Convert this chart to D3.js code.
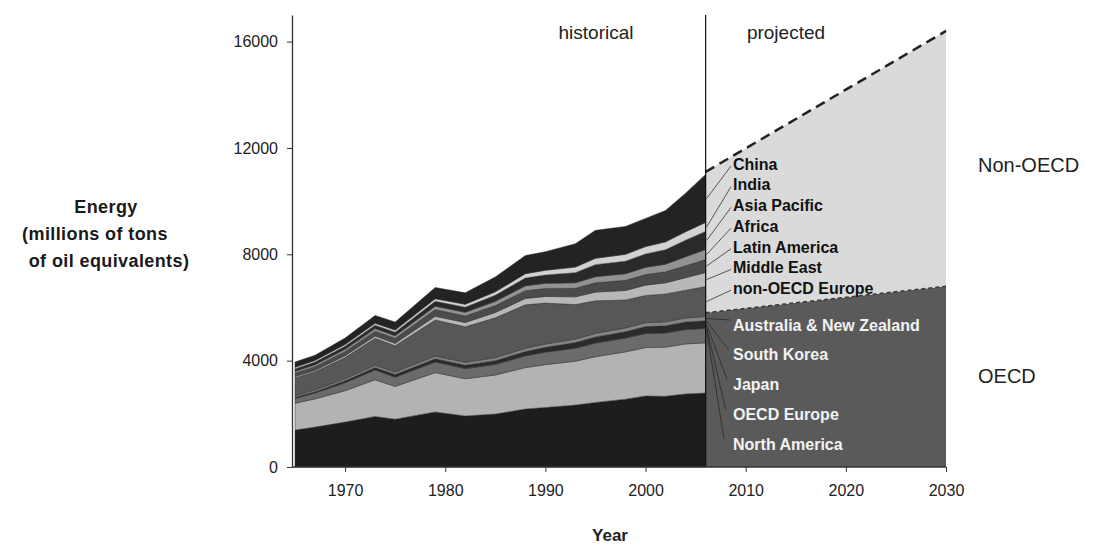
<!DOCTYPE html>
<html>
<head>
<meta charset="utf-8">
<script src="https://cdn.jsdelivr.net/npm/d3@7"></script>
<style>
  body { margin: 0; background: #fff; }
  text { font-family: "Liberation Sans", Arial, sans-serif; }
</style>
</head>
<body>
<svg id="chart" width="1095" height="545"></svg>
<script>
// ---------------- data ----------------
const years = [1965, 1967, 1970, 1973, 1975, 1979, 1982, 1985, 1988, 1990, 1993, 1995, 1998, 2000, 2002, 2004, 2006];
const northAmerica  = [1390, 1500, 1690, 1900, 1800, 2070, 1920, 1990, 2180, 2240, 2330, 2430, 2550, 2670, 2660, 2750, 2780];
const oecdEurope    = [1010, 1060, 1180, 1380, 1230, 1480, 1400, 1470, 1560, 1610, 1650, 1720, 1780, 1820, 1850, 1880, 1890];
const japan         = [180, 220, 300, 370, 350, 400, 380, 400, 440, 470, 490, 510, 520, 530, 530, 540, 540];
const southKorea    = [40, 50, 70, 90, 100, 120, 130, 140, 160, 180, 210, 230, 240, 260, 270, 280, 290];
const ausNz         = [60, 65, 75, 85, 90, 100, 105, 110, 120, 125, 130, 135, 140, 145, 150, 155, 160];
const nonOecdEurope = [670, 685, 800, 1015, 990, 1360, 1340, 1500, 1640, 1540, 1300, 1225, 1050, 1025, 1050, 1045, 1125];
const middleEast    = [50, 55, 70, 85, 90, 140, 160, 200, 240, 250, 290, 330, 360, 390, 420, 470, 530];
const latinAmerica  = [130, 140, 160, 185, 190, 250, 245, 260, 290, 300, 320, 350, 380, 400, 410, 450, 490];
const africa        = [70, 75, 85, 95, 100, 130, 140, 160, 185, 195, 210, 230, 250, 270, 290, 340, 375];
const asiaPacific   = [90, 95, 110, 130, 130, 180, 190, 230, 290, 310, 380, 450, 470, 500, 540, 620, 680];
const india         = [60, 65, 70, 75, 80, 100, 110, 130, 165, 180, 210, 240, 260, 280, 300, 320, 340];
const china         = [200, 190, 240, 290, 300, 420, 430, 560, 680, 700, 880, 1050, 1050, 1060, 1180, 1450, 1800];

const projYears   = [2006, 2030];
const projOecd    = [5800, 6800];
const projNonOecd = [5300, 9600];

const xTicks = [1970, 1980, 1990, 2000, 2010, 2020, 2030];
const yTicks = [0, 4000, 8000, 12000, 16000];

// layer order bottom -> top
const layers = [
  { key: 'na',  name: 'North America',          values: northAmerica,  fill: '#1d1d1d', group: 'oecd' },
  { key: 'eu',  name: 'OECD Europe',            values: oecdEurope,    fill: '#b3b3b3', group: 'oecd' },
  { key: 'jp',  name: 'Japan',                  values: japan,         fill: '#6b6b6b', group: 'oecd' },
  { key: 'kr',  name: 'South Korea',            values: southKorea,    fill: '#2b2b2b', group: 'oecd' },
  { key: 'au',  name: 'Australia & New Zealand',values: ausNz,         fill: '#858585', group: 'oecd' },
  { key: 'neu', name: 'non-OECD Europe',        values: nonOecdEurope, fill: '#575757', group: 'non' },
  { key: 'me',  name: 'Middle East',            values: middleEast,    fill: '#b8b8b8', group: 'non' },
  { key: 'la',  name: 'Latin America',          values: latinAmerica,  fill: '#4b4b4b', group: 'non' },
  { key: 'af',  name: 'Africa',                 values: africa,        fill: '#929292', group: 'non' },
  { key: 'ap',  name: 'Asia Pacific',           values: asiaPacific,   fill: '#2a2a2a', group: 'non' },
  { key: 'in',  name: 'India',                  values: india,         fill: '#d2d2d2', group: 'non' },
  { key: 'cn',  name: 'China',                  values: china,         fill: '#232323', group: 'non' }
];

// ---------------- scales ----------------
const svg = d3.select('#chart');
const x = d3.scaleLinear().domain([1965, 2030]).range([295, 946]);
const y = d3.scaleLinear().domain([0, 17000]).range([467, 15]);

// ---------------- projected areas ----------------
const projTable = projYears.map((yr, i) => ({ year: yr, oecd: projOecd[i], non: projNonOecd[i] }));
const projStack = d3.stack().keys(['oecd', 'non'])(projTable);
const projFill = { oecd: '#5a5a5a', non: '#dadada' };

const area = d3.area()
  .x((d) => x(d.data.year))
  .y0((d) => y(d[0]))
  .y1((d) => y(d[1]));

svg.append('g').selectAll('path')
  .data(projStack)
  .enter()
  .append('path')
  .attr('d', area)
  .attr('fill', (d) => projFill[d.key]);

// dashed tops
const topLine = d3.line().x((d) => x(d.data.year)).y((d) => y(d[1]));
svg.append('g').selectAll('path')
  .data(projStack)
  .enter()
  .append('path')
  .attr('d', topLine)
  .attr('fill', 'none')
  .attr('stroke', (d) => d.key === 'non' ? '#222' : '#3a3a3a')
  .attr('stroke-width', (d) => d.key === 'non' ? 2.5 : 1.5)
  .attr('stroke-dasharray', (d) => d.key === 'non' ? '10,6' : '4,3');

// ---------------- historical stack ----------------
const table = years.map((yr, i) => {
  const row = { year: yr };
  layers.forEach((l) => { row[l.key] = l.values[i]; });
  return row;
});
const stack = d3.stack().keys(layers.map((l) => l.key))(table);

svg.append('g').selectAll('path')
  .data(stack)
  .enter()
  .append('path')
  .attr('d', area)
  .attr('fill', (d, i) => layers[i].fill)
  .attr('stroke', '#2c2c2c')
  .attr('stroke-width', 0.5);

// divider historical / projected
svg.append('line')
  .attr('x1', x(2006)).attr('x2', x(2006))
  .attr('y1', y(17000)).attr('y2', y(0))
  .attr('stroke', '#111')
  .attr('stroke-width', 1.2);

// ---------------- axes ----------------
const yAxis = d3.axisLeft(y).tickValues(yTicks).tickFormat(d3.format('d'))
  .tickSize(5).tickSizeOuter(0).tickPadding(9);
const gy = svg.append('g').attr('transform', 'translate(292,0)').call(yAxis);
const xAxis = d3.axisBottom(x).tickValues(xTicks).tickFormat(d3.format('d'))
  .tickSize(5).tickSizeOuter(0).tickPadding(13);
const gx = svg.append('g').attr('transform', 'translate(0,467)').call(xAxis);

[gx, gy].forEach((g) => {
  g.select('.domain').attr('stroke', '#333').attr('stroke-width', 1.3);
  g.selectAll('.tick line').attr('stroke', '#333');
  g.selectAll('.tick text').attr('fill', '#222').style('font-size', '16px');
});
gx.select('.domain').attr('d', `M292,0H${x(2030)}`);

// ---------------- region labels with leader lines ----------------
const last = years.length - 1;
const edgeX = x(2006);
const labelX = 733;

const nonLayers = stack.filter((s, i) => layers[i].group === 'non').reverse();
const oecdLayers = stack.filter((s, i) => layers[i].group === 'oecd').reverse();
const oecdTop = y(d3.sum(layers.filter((l) => l.group === 'oecd'), (l) => l.values[last]));

const labels = svg.append('g');
nonLayers.forEach((s, i) => {
  const ly = 164 + i * 20.7;
  const mid = y((s[last][0] + s[last][1]) / 2);
  labels.append('line')
    .attr('x1', edgeX + 1).attr('y1', mid)
    .attr('x2', labelX - 2).attr('y2', ly + 2)
    .attr('stroke', '#333').attr('stroke-width', 0.8);
  labels.append('text')
    .attr('x', labelX).attr('y', ly)
    .attr('dy', '0.36em')
    .attr('fill', '#111')
    .style('font-size', '16px')
    .style('font-weight', 'bold')
    .text(layers.find((l) => l.key === s.key).name);
});

oecdLayers.forEach((s, i) => {
  const ly = 325 + i * 29.7;
  labels.append('line')
    .attr('x1', edgeX + 1).attr('y1', oecdTop + 2 + i * 3)
    .attr('x2', labelX - 3 - i * 1.5).attr('y2', ly - 5)
    .attr('stroke', '#2a2a2a').attr('stroke-width', 0.8);
  labels.append('text')
    .attr('x', labelX).attr('y', ly)
    .attr('dy', '0.36em')
    .attr('fill', '#f2f2f2')
    .style('font-size', '16px')
    .style('font-weight', 'bold')
    .text(layers.find((l) => l.key === s.key).name);
});

// ---------------- titles ----------------
svg.append('text').attr('x', 596).attr('y', 39).attr('text-anchor', 'middle')
  .attr('fill', '#222').style('font-size', '19px').text('historical');
svg.append('text').attr('x', 786).attr('y', 39).attr('text-anchor', 'middle')
  .attr('fill', '#222').style('font-size', '19px').text('projected');

svg.append('text').attr('x', 978).attr('y', 172)
  .attr('fill', '#222').style('font-size', '20px').text('Non-OECD');
svg.append('text').attr('x', 978).attr('y', 383)
  .attr('fill', '#222').style('font-size', '20px').text('OECD');

svg.append('text').attr('x', 610).attr('y', 541).attr('text-anchor', 'middle')
  .attr('fill', '#222').style('font-size', '17px').style('font-weight', 'bold').text('Year');

const yTitle = ['Energy', '(millions of tons', ' of oil equivalents)'];
const yTitleX = [106, 95, 109];
svg.append('g').selectAll('text')
  .data(yTitle)
  .enter()
  .append('text')
  .attr('x', (d, i) => yTitleX[i])
  .attr('y', (d, i) => 213 + i * 27)
  .attr('text-anchor', 'middle')
  .attr('fill', '#1a1a1a')
  .style('font-size', '18px')
  .style('font-weight', 'bold')
  .style('letter-spacing', '0.4px')
  .text((d) => d);
</script>
</body>
</html>
